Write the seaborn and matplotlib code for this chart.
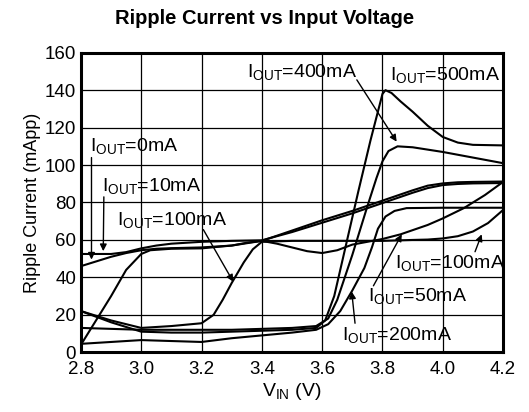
import numpy as np
import pandas as pd
import matplotlib
matplotlib.use("Agg")
import matplotlib.pyplot as plt
import seaborn as sns

# ---- data ----
# IOUT = 0mA
vin_0ma = [2.8, 2.85, 2.9, 2.95, 3.0, 3.05, 3.1, 3.2, 3.3, 3.4, 3.5, 3.6, 3.7, 3.8, 3.9, 3.95, 4.0, 4.05, 4.1, 4.2]
rip_0ma = [46, 48.5, 51, 53, 54.5, 55.3, 55.6, 56, 57, 59.5, 65, 70.5, 75.5, 81, 86.5, 89, 90.2, 90.8, 91, 91.2]

# IOUT = 10mA
vin_10ma = [2.8, 2.9, 2.95, 3.0, 3.05, 3.1, 3.2, 3.3, 3.4, 3.5, 3.6, 3.7, 3.8, 3.9, 3.95, 4.0, 4.05, 4.1, 4.2]
rip_10ma = [52.5, 52.5, 53.5, 55.5, 57, 58, 59, 59.5, 59.8, 64.2, 69.2, 74.2, 79.7, 85.2, 87.7, 89.3, 89.9, 90.2, 90.4]

# IOUT = 50mA
vin_50ma = [2.8, 2.85, 2.9, 2.95, 3.0, 3.03, 3.1, 3.2, 3.3, 3.35, 3.4, 3.45, 3.5, 3.55, 3.6,
            3.65, 3.7, 3.8, 3.86, 3.95, 4.0, 4.07, 4.14, 4.2]
rip_50ma = [4, 17, 30, 44, 52.5, 54.5, 55.3, 55.5, 57, 58.5, 59.5, 58, 56, 54, 53,
            54.5, 57.5, 60.5, 63, 68, 71.5, 77, 84, 91]

# IOUT = 100mA
vin_100ma = [2.8, 2.9, 3.0, 3.1, 3.2, 3.24, 3.27, 3.3, 3.34, 3.37, 3.4, 3.5, 3.6, 3.7, 3.8,
             3.9, 3.95, 4.0, 4.05, 4.1, 4.15, 4.2]
rip_100ma = [22, 17, 13, 14, 15.5, 20, 28, 37, 48, 55, 59, 59.5, 59.5, 59.5, 59.5,
             60, 60.2, 60.8, 62, 64.5, 69, 76]

# IOUT = 200mA
vin_200ma = [2.8, 2.9, 3.0, 3.1, 3.2, 3.25, 3.3, 3.4, 3.5, 3.58, 3.62, 3.66, 3.7, 3.74, 3.765,
             3.785, 3.81, 3.84, 3.88, 4.0, 4.1, 4.2]
rip_200ma = [4.5, 5.5, 6.5, 6, 5.5, 6.5, 7.5, 9, 10.5, 12, 15, 22, 33, 45, 56,
             66, 72.5, 75.5, 77, 77.2, 77.2, 77.2]

# IOUT = 400mA
vin_400ma = [2.8, 2.9, 3.0, 3.1, 3.2, 3.3, 3.4, 3.5, 3.58, 3.62, 3.65, 3.7, 3.75, 3.78, 3.8,
             3.82, 3.85, 3.9, 4.0, 4.1, 4.2]
rip_400ma = [13, 12.5, 12, 12, 12, 12, 12.5, 13, 14, 18, 28, 52, 78, 93, 102,
             107.5, 110, 109.5, 107, 104, 101]

# IOUT = 500mA
vin_500ma = [2.8, 2.9, 3.0, 3.1, 3.2, 3.3, 3.4, 3.5, 3.58, 3.61, 3.64, 3.68, 3.72, 3.76, 3.8,
             3.81, 3.83, 3.86, 3.9, 3.95, 4.0, 4.05, 4.1, 4.2]
rip_500ma = [22, 16, 11, 10.5, 10.5, 11, 11.5, 12, 13, 17, 30, 58, 86, 113, 138,
             140, 138.5, 134, 128.5, 121, 115, 112, 110.8, 110.5]

x_ticks = [2.8, 3.0, 3.2, 3.4, 3.6, 3.8, 4.0, 4.2]
y_ticks = [0, 20, 40, 60, 80, 100, 120, 140, 160]

# label text, position (left, middle) and arrow (start, tip)
labels = [
    (r'I$_{\mathrm{OUT}}$=400mA', 3.35, 149.5, (3.715, 145.5), (3.847, 112.5)),
    (r'I$_{\mathrm{OUT}}$=500mA', 3.825, 148, None, None),
    (r'I$_{\mathrm{OUT}}$=0mA', 2.83, 110, (2.835, 104), (2.835, 49.5)),
    (r'I$_{\mathrm{OUT}}$=10mA', 2.869, 89, (2.876, 83), (2.874, 54)),
    (r'I$_{\mathrm{OUT}}$=100mA', 2.918, 70.6, (3.206, 65.5), (3.305, 37.7)),
    (r'I$_{\mathrm{OUT}}$=100mA', 3.842, 47.7, (4.107, 53.7), (4.129, 63)),
    (r'I$_{\mathrm{OUT}}$=50mA', 3.752, 30, (3.77, 35.5), (3.864, 63)),
    (r'I$_{\mathrm{OUT}}$=200mA', 3.665, 9.2, (3.709, 15.5), (3.698, 32.4)),
]

curves = [(vin_0ma, rip_0ma), (vin_10ma, rip_10ma), (vin_50ma, rip_50ma),
          (vin_100ma, rip_100ma), (vin_200ma, rip_200ma),
          (vin_400ma, rip_400ma), (vin_500ma, rip_500ma)]

# ---- style ----
sns.set_theme(style="white")
plt.rcParams['font.family'] = ['Liberation Sans', 'DejaVu Sans']
plt.rcParams['mathtext.fontset'] = 'custom'
plt.rcParams['mathtext.rm'] = 'Liberation Sans'
plt.rcParams['mathtext.it'] = 'Liberation Sans:italic'
plt.rcParams['mathtext.bf'] = 'Liberation Sans:bold'

fig = plt.figure(figsize=(5.29, 4.12), dpi=100)
ax = fig.add_axes([0.153, 0.145, 0.798, 0.727])

for vin, rip in curves:
    df = pd.DataFrame({'vin': vin, 'rip': rip})
    sns.lineplot(data=df, x='vin', y='rip', color='black', lw=1.5,
                 sort=False, estimator=None, ax=ax)

ax.set_xlim(2.8, 4.2)
ax.set_ylim(0, 160)
ax.set_xticks(x_ticks)
ax.set_xticklabels([f'{v:.1f}' for v in x_ticks])
ax.set_yticks(y_ticks)
ax.grid(True, color='black', lw=0.9)
ax.tick_params(length=0, labelsize=13.5, colors='black')
ax.tick_params(axis='x', pad=6.5)
ax.tick_params(axis='y', pad=3.5)
for sp in ax.spines.values():
    sp.set_color('black')
    sp.set_linewidth(2.2)

ax.set_xlabel(r'V$_{\mathrm{IN}}$ (V)', fontsize=14, color='black', labelpad=2)
ax.set_ylabel('Ripple Current (mApp)', fontsize=13, color='black', labelpad=3)

for txt, tx, ty, start, tip in labels:
    ax.text(tx, ty, txt, fontsize=14, ha='left', va='center', color='black')
    if start is not None:
        ax.annotate('', xy=tip, xytext=start,
                    arrowprops=dict(arrowstyle='-|>', color='black', lw=1,
                                    mutation_scale=10, shrinkA=0, shrinkB=0))

fig.suptitle('Ripple Current vs Input Voltage', x=0.5, y=0.956, va='center',
             fontsize=14.5, fontweight='bold', color='black')

fig.savefig('out.png', dpi=100)
